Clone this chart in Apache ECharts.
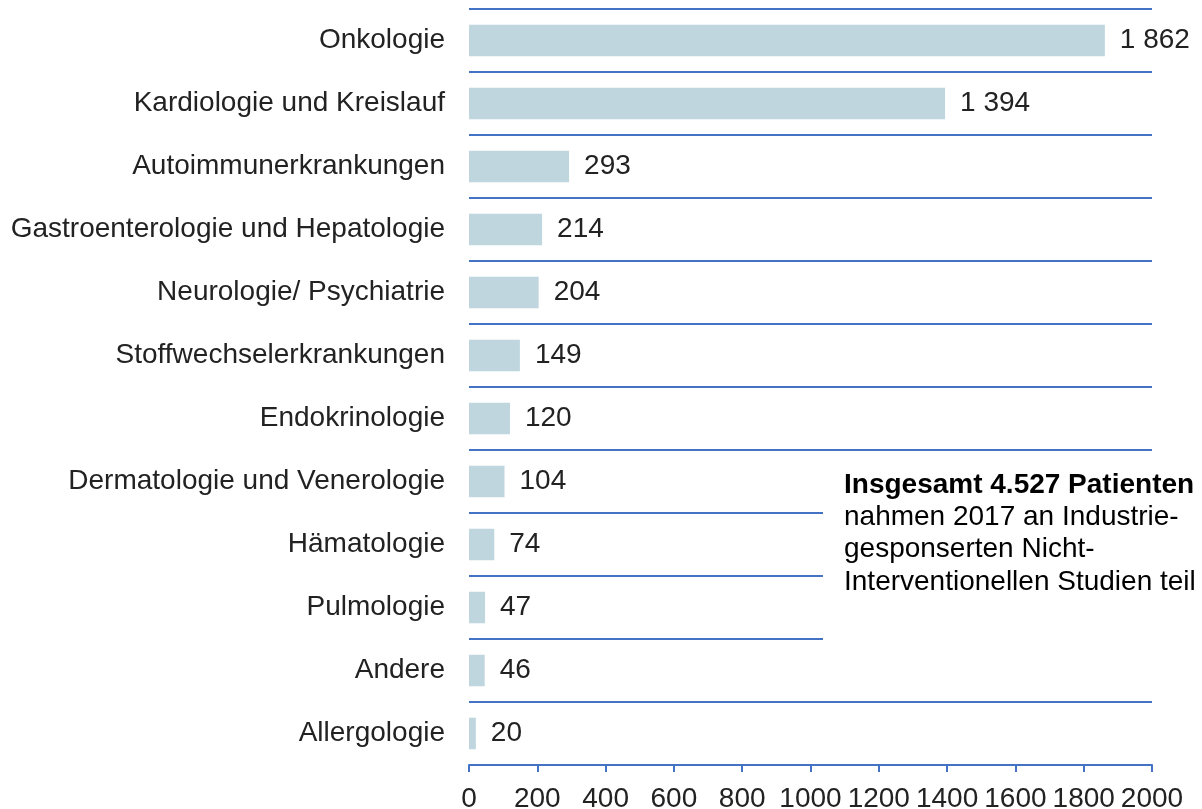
<!DOCTYPE html>
<html>
<head>
<meta charset="utf-8">
<script src="https://cdn.jsdelivr.net/npm/echarts@6/dist/echarts.min.js"></script>
<style>
html,body{margin:0;padding:0;background:#fff;}
#chart{width:1202px;height:809px;}
</style>
</head>
<body>
<div id="chart"></div>
<script>
var categories = [
  'Onkologie',
  'Kardiologie und Kreislauf',
  'Autoimmunerkrankungen',
  'Gastroenterologie und Hepatologie',
  'Neurologie/ Psychiatrie',
  'Stoffwechselerkrankungen',
  'Endokrinologie',
  'Dermatologie und Venerologie',
  'Hämatologie',
  'Pulmologie',
  'Andere',
  'Allergologie'
];
var values = [1862, 1394, 293, 214, 204, 149, 120, 104, 74, 47, 46, 20];
var noteTitle = 'Insgesamt 4.527 Patienten';
var noteLines = ['nahmen 2017 an Industrie-', 'gesponserten Nicht-', 'Interventionellen Studien teil'];

function fmt(v) {
  return String(v).replace(/\B(?=(\d{3})+(?!\d))/g, ' ');
}

var chart = echarts.init(document.getElementById('chart'));
var font = 'Liberation Sans, Arial, sans-serif';
var lineColor = '#4472C4';

chart.setOption({
  animation: false,
  backgroundColor: '#fff',
  grid: { left: 469, right: 50, top: 9, bottom: 44, containLabel: false, outerBoundsMode: 'none' },
  xAxis: {
    type: 'value',
    min: 0, max: 2000, interval: 200,
    axisLine: { show: true, lineStyle: { color: lineColor, width: 2 } },
    axisTick: { show: true, length: 7, lineStyle: { color: lineColor, width: 2 } },
    splitLine: { show: false },
    axisLabel: {
      color: '#222', fontFamily: font, fontSize: 28, margin: 20,
      showMinLabel: true, showMaxLabel: true, hideOverlap: false,
      formatter: function (v) { return String(v); }
    }
  },
  yAxis: {
    type: 'category',
    inverse: true,
    data: categories,
    axisLine: { show: false },
    axisTick: { show: false },
    splitLine: { show: true, interval: 0, lineStyle: { color: lineColor, width: 2 } },
    axisLabel: { color: '#222', fontFamily: font, fontSize: 28, margin: 24, interval: 0 }
  },
  series: [{
    type: 'bar',
    data: values,
    barCategoryGap: '50%',
    itemStyle: { color: '#BFD6DF' },
    label: {
      show: true,
      position: 'right',
      distance: 15,
      color: '#222',
      fontFamily: font,
      fontSize: 28,
      formatter: function (p) { return fmt(p.value); }
    }
  }],
  graphic: [
    { type: 'rect', z: 100, zlevel: 1, shape: { x: 823, y: 462, width: 379, height: 188 }, style: { fill: '#fff' } },
    { type: 'text', z: 101, zlevel: 1, x: 844, y: 485, style: { text: noteTitle, fill: '#000', font: 'bold 28px ' + font, textVerticalAlign: 'middle' } },
    { type: 'text', z: 101, zlevel: 1, x: 844, y: 501, style: { text: noteLines.join('\n'), fill: '#000', font: '28px ' + font, lineHeight: 32.5 } }
  ]
});
</script>
</body>
</html>
